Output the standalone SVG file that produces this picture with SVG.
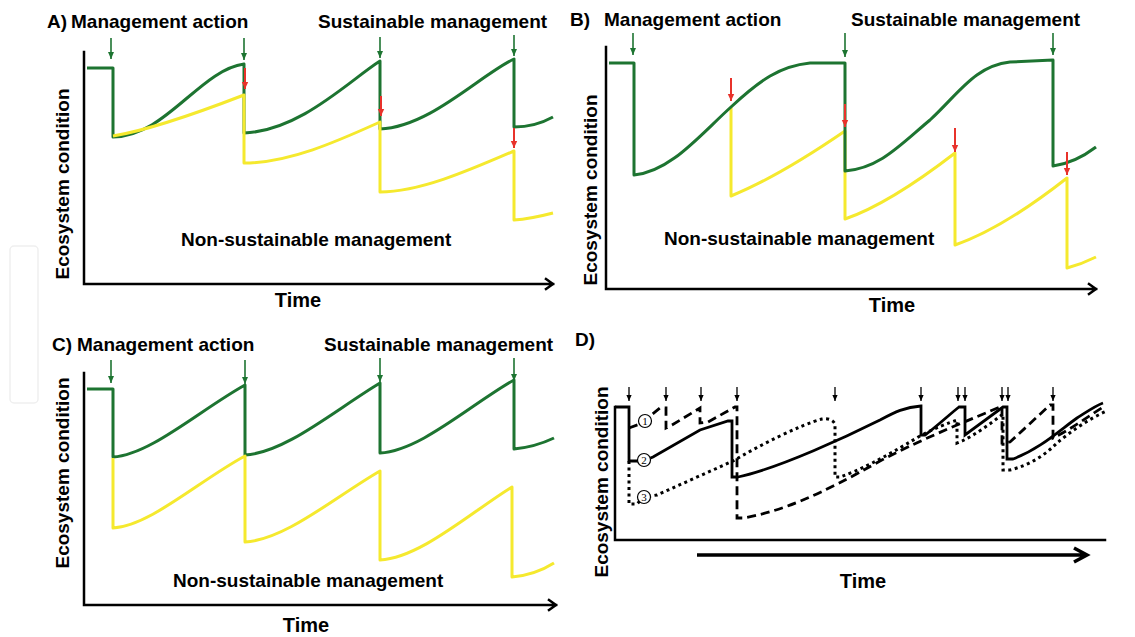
<svg xmlns="http://www.w3.org/2000/svg" width="1135" height="637" viewBox="0 0 1135 637">
<style>
.t{font-family:"Liberation Sans",Arial,sans-serif;font-weight:bold;font-size:19px;fill:#000}
.tm{font-size:20px;text-anchor:middle}
.yl{text-anchor:middle}
.ax{stroke:#000;stroke-width:2.5;fill:none;stroke-linecap:square}
.g{stroke:#1d7431;stroke-width:3;fill:none;stroke-linejoin:round}
.y{stroke:#f5e92e;stroke-width:3;fill:none;stroke-linejoin:round}
.ra{stroke:#e8322b;stroke-width:2;marker-end:url(#mr)}
.ga{stroke:#1d7431;stroke-width:1.6;marker-end:url(#mg)}
.ka{stroke:#000;stroke-width:1.3;marker-end:url(#mk)}
.k{stroke:#000;stroke-width:2.8;fill:none;stroke-linejoin:miter}
.dash{stroke-dasharray:9 5}
.dot{stroke-width:3;stroke-dasharray:3 3.5}
.c{fill:#fff;stroke:#000;stroke-width:1.2}
.n{font-family:"Liberation Serif","Times New Roman",serif;font-size:11px;text-anchor:middle;fill:#000}
</style>
<defs>
<marker id="mr" markerUnits="userSpaceOnUse" viewBox="-8 -4 8 8" refX="0" refY="0" markerWidth="8" markerHeight="8" orient="auto"><path d="M0,0 L-7,-3.2 L-7,3.2 Z" fill="#e8322b"/></marker>
<marker id="mg" markerUnits="userSpaceOnUse" viewBox="-8 -4 8 8" refX="0" refY="0" markerWidth="8" markerHeight="8" orient="auto"><path d="M0,0 L-7,-3 L-7,3 Z" fill="#1d7431"/></marker>
<marker id="mk" markerUnits="userSpaceOnUse" viewBox="-8 -4 8 8" refX="0" refY="0" markerWidth="8" markerHeight="8" orient="auto"><path d="M0,0 L-6,-2.6 L-6,2.6 Z" fill="#000"/></marker>
</defs>
<rect width="1135" height="637" fill="#fff"/>
<rect x="10" y="246" width="28" height="157" rx="4" fill="none" stroke="#efefef" stroke-width="1.5"/>

<!-- Panel A -->
<g id="panelA">
<text class="t" x="47" y="28">A)</text>
<text class="t" x="71" y="28">Management action</text>
<text class="t" x="318" y="28">Sustainable management</text>
<text class="t" x="181" y="246">Non-sustainable management</text>
<text class="t tm" x="298" y="307">Time</text>
<text class="t yl" transform="translate(69,184) rotate(-90)">Ecosystem condition</text>
<path class="ax" d="M84,52 V284 H553 M546,279 L553,284 L546,289"/>
<path class="g" d="M87,68 H113 V137 C165,137 200,70 244,64 V133 C300,131 350,80 380,61 V129 C430,127 480,75 514,59 V127 Q535,127 553,117"/>
<path class="y" d="M113,136 C150,130 200,112 244,95 V163 C290,163 340,140 380,122 V192 C420,192 470,170 514,151 V220 Q530,219 553,213"/>
<line class="ra" x1="245" y1="68" x2="245" y2="89"/>
<line class="ra" x1="381" y1="96" x2="381" y2="116"/>
<line class="ra" x1="514" y1="128" x2="514" y2="148"/>
<line class="ga" x1="111" y1="38" x2="111" y2="59"/>
<line class="ga" x1="244" y1="38" x2="244" y2="60"/>
<line class="ga" x1="380" y1="37" x2="380" y2="58"/>
<line class="ga" x1="514" y1="35" x2="514" y2="56"/>
</g>

<!-- Panel B -->
<g id="panelB">
<text class="t" x="570" y="26">B)</text>
<text class="t" x="604" y="26">Management action</text>
<text class="t" x="851" y="26">Sustainable management</text>
<text class="t" x="664" y="245">Non-sustainable management</text>
<text class="t tm" x="892" y="312">Time</text>
<text class="t yl" transform="translate(597,190) rotate(-90)">Ecosystem condition</text>
<path class="ax" d="M606,47 V289 H1096 M1089,284 L1096,289 L1089,294"/>
<path class="y" d="M731,107 V196 C770,180 810,155 845,131 V219 C880,207 920,180 955,153 V245 C990,233 1030,207 1067,178 V268 Q1082,264 1096,257"/>
<path class="g" d="M609,63 H634 V175 C670,172 700,135 731,107 C760,80 780,66 810,63 L845,63 V171 C880,168 900,145 930,120 C960,92 975,66 1010,62 L1053,60 V166 Q1075,163 1096,147"/>
<line class="ra" x1="731" y1="78" x2="731" y2="101"/>
<line class="ra" x1="845" y1="104" x2="845" y2="127"/>
<line class="ra" x1="955" y1="128" x2="955" y2="152"/>
<line class="ra" x1="1067" y1="152" x2="1067" y2="175"/>
<line class="ga" x1="633" y1="33" x2="633" y2="55"/>
<line class="ga" x1="845" y1="33" x2="845" y2="57"/>
<line class="ga" x1="1053" y1="33" x2="1053" y2="55"/>
</g>

<!-- Panel C -->
<g id="panelC">
<text class="t" x="52" y="351">C)</text>
<text class="t" x="77" y="351">Management action</text>
<text class="t" x="324" y="351">Sustainable management</text>
<text class="t" x="173" y="587">Non-sustainable management</text>
<text class="t tm" x="306" y="632">Time</text>
<text class="t yl" transform="translate(69,473) rotate(-90)">Ecosystem condition</text>
<path class="ax" d="M84,373 V605 H556 M549,600 L556,605 L549,610"/>
<path class="g" d="M87,389 H113 V457 C150,455 200,410 245,385 V455 C285,453 335,410 380,383 V453 C420,451 470,405 514,380 V449 Q535,447 554,438"/>
<path class="y" d="M113,458 V528 C150,526 200,480 245,456 V542 C285,540 335,497 380,471 V560 C420,558 470,513 512,487 V577 Q535,575 554,563"/>
<line class="ga" x1="111" y1="360" x2="111" y2="383"/>
<line class="ga" x1="245" y1="360" x2="245" y2="384"/>
<line class="ga" x1="380" y1="358" x2="380" y2="382"/>
<line class="ga" x1="514" y1="358" x2="514" y2="381"/>
</g>

<!-- Panel D -->
<g id="panelD">
<text class="t" x="575" y="346">D)</text>
<text class="t tm" x="863" y="588">Time</text>
<text class="t yl" transform="translate(608,482) rotate(-90)">Ecosystem condition</text>
<path class="ax" d="M615,407 V540 H1105"/>
<path d="M697,555 H1086 M1074,548 L1087,555 L1074,562" fill="none" stroke="#000" stroke-width="3.5"/>
<path class="k dot" d="M629,461 V504 H637 L644,497 L657,495 L733,461 C760,445 800,425 822,419 C828,418 833,420 835,424 V477 H840 C860,470 880,460 920,436 C935,428 948,423 957,420 V443 L962,441 C975,435 990,424 1003,414 V470 H1010 C1030,465 1045,455 1057,443 C1070,432 1090,418 1107,411"/>
<path class="k dash" d="M629,428 L640,424 L660,408 H666 V428 L672,425 L700,408 V423 L708,422 L735,407 H737 V518 H743 C780,512 820,495 880,461 C930,435 970,420 1002,406 V443 L1010,442 L1050,405 H1053 V438 C1070,430 1090,415 1105,406"/>
<path class="k" d="M615,407 H629 V461 H643 L653,457 L700,430 L728,421 H732 V477 H738 C780,468 850,435 880,420 C895,412 905,407 921,406 V435 H925 C935,428 950,414 959,407 H965 V435 L1003,407 H1007 V459 H1013 C1040,449 1060,430 1077,418 C1088,411 1095,406 1103,403"/>
<circle class="c" cx="645" cy="421" r="6.5"/>
<text class="n" x="645" y="425">1</text>
<circle class="c" cx="644" cy="460" r="6.5"/>
<text class="n" x="644" y="464">2</text>
<circle class="c" cx="644" cy="497" r="6.5"/>
<text class="n" x="644" y="501">3</text>
<line class="ka" x1="629" y1="387" x2="629" y2="401"/>
<line class="ka" x1="666" y1="387" x2="666" y2="401"/>
<line class="ka" x1="701" y1="387" x2="701" y2="401"/>
<line class="ka" x1="737" y1="387" x2="737" y2="401"/>
<line class="ka" x1="835" y1="387" x2="835" y2="401"/>
<line class="ka" x1="921" y1="387" x2="921" y2="401"/>
<line class="ka" x1="958" y1="387" x2="958" y2="401"/>
<line class="ka" x1="965" y1="387" x2="965" y2="401"/>
<line class="ka" x1="1002" y1="387" x2="1002" y2="401"/>
<line class="ka" x1="1008" y1="387" x2="1008" y2="401"/>
<line class="ka" x1="1053" y1="387" x2="1053" y2="401"/>
</g>
</svg>
